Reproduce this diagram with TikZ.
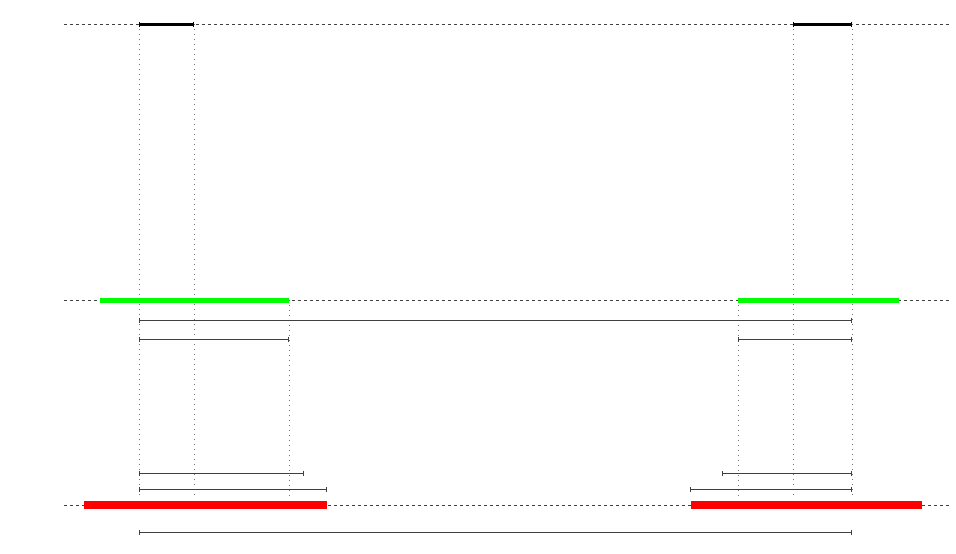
\documentclass[tikz,border=0pt]{standalone}
\usetikzlibrary{arrows.meta}
\begin{document}
\begin{tikzpicture}[x=1pt,y=-1pt,
  axis/.style={line width=0.6pt,black!75,dash pattern=on 3pt off 3pt},
  guide/.style={line width=0.8pt,black!55,dash pattern=on 0.8pt off 4.2pt},
  seg/.style={line width=3pt,black,{Bar[width=5pt,line width=0.6pt]}-{Bar[width=5pt,line width=0.6pt]}},
  gbar/.style={line width=5pt,green},
  rbar/.style={line width=8pt,red},
  span/.style={line width=0.7pt,black!75,{Bar[width=5pt]}-{Bar[width=5pt]}}]
\useasboundingbox (0,0) rectangle (956,554);
% axes
\coordinate (t0) at (64,24); \coordinate (t1) at (950,24);
\coordinate (m0) at (64,300); \coordinate (m1) at (950,300);
\coordinate (b0) at (64,505); \coordinate (b1) at (950,505);
\draw[axis] (t0) -- (t1);
\draw[axis] (m0) -- (m1);
\draw[axis] (b0) -- (b1);
% guides
\coordinate (g1t) at (139,24); \coordinate (g1b) at (139,498);
\coordinate (g2t) at (194,24); \coordinate (g2b) at (194,498);
\coordinate (g3t) at (289,300); \coordinate (g3b) at (289,498);
\coordinate (g4t) at (738,300); \coordinate (g4b) at (738,498);
\coordinate (g5t) at (793,24); \coordinate (g5b) at (793,498);
\coordinate (g6t) at (852,24); \coordinate (g6b) at (852,498);
\draw[guide] (g1t) -- (g1b);
\draw[guide] (g2t) -- (g2b);
\draw[guide] (g3t) -- (g3b);
\draw[guide] (g4t) -- (g4b);
\draw[guide] (g5t) -- (g5b);
\draw[guide] (g6t) -- (g6b);
% top segments
\draw[seg] (g1t) -- (g2t);
\draw[seg] (g5t) -- (g6t);
% green bars
\coordinate (ga0) at (100,300); \coordinate (ga1) at (289,300);
\coordinate (gb0) at (738,300); \coordinate (gb1) at (899,300);
\draw[gbar] (ga0) -- (ga1);
\draw[gbar] (gb0) -- (gb1);
% red bars
\coordinate (ra0) at (84,505); \coordinate (ra1) at (327,505);
\coordinate (rb0) at (691,505); \coordinate (rb1) at (922,505);
\draw[rbar] (ra0) -- (ra1);
\draw[rbar] (rb0) -- (rb1);
% spans
\coordinate (s1a) at (139,320); \coordinate (s1b) at (852,320);
\draw[span] (s1a) -- (s1b);
\coordinate (s2a) at (139,339); \coordinate (s2b) at (289,339);
\coordinate (s3a) at (738,339); \coordinate (s3b) at (852,339);
\draw[span] (s2a) -- (s2b);
\draw[span] (s3a) -- (s3b);
\coordinate (s4a) at (139,473); \coordinate (s4b) at (304,473);
\coordinate (s5a) at (722,473); \coordinate (s5b) at (852,473);
\draw[span] (s4a) -- (s4b);
\draw[span] (s5a) -- (s5b);
\coordinate (s6a) at (139,489); \coordinate (s6b) at (327,489);
\coordinate (s7a) at (690,489); \coordinate (s7b) at (852,489);
\draw[span] (s6a) -- (s6b);
\draw[span] (s7a) -- (s7b);
\coordinate (s8a) at (139,532); \coordinate (s8b) at (852,532);
\draw[span] (s8a) -- (s8b);
\end{tikzpicture}
\end{document}
